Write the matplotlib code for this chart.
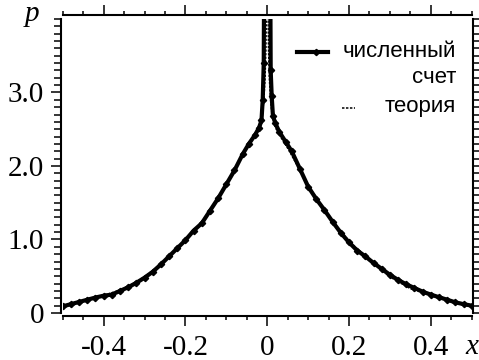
"""Distribution p(x): numerical result against theory."""

import matplotlib

matplotlib.use("Agg")
import matplotlib.pyplot as plt  # noqa: E402
from matplotlib.ticker import MultipleLocator  # noqa: E402

# numerical estimate of p(x)
x_num = [
    -0.50, -0.48, -0.46, -0.44, -0.42, -0.40, -0.38, -0.36, -0.34, -0.32,
    -0.30, -0.28, -0.26, -0.24, -0.22, -0.20, -0.18, -0.16, -0.14, -0.12,
    -0.10, -0.08, -0.06, -0.045, -0.03, -0.02, -0.014, -0.011, -0.0085, -0.0075,
    0.0075, 0.0085, 0.011, 0.014, 0.02, 0.03, 0.045, 0.06, 0.08, 0.10,
    0.12, 0.14, 0.16, 0.18, 0.20, 0.22, 0.24, 0.26, 0.28, 0.30,
    0.32, 0.34, 0.36, 0.38, 0.40, 0.42, 0.44, 0.46, 0.48, 0.50,
]
p_num = [
    0.09, 0.12, 0.15, 0.18, 0.21, 0.235, 0.25, 0.30, 0.35, 0.41,
    0.48, 0.56, 0.66, 0.77, 0.88, 0.99, 1.12, 1.22, 1.39, 1.56,
    1.75, 1.94, 2.16, 2.30, 2.42, 2.52, 2.62, 2.90, 3.40, 4.60,
    4.60, 3.30, 2.95, 2.68, 2.58, 2.46, 2.33, 2.20, 1.96, 1.72,
    1.55, 1.40, 1.24, 1.09, 0.96, 0.85, 0.77, 0.68, 0.60, 0.52,
    0.45, 0.39, 0.34, 0.29, 0.25, 0.215, 0.18, 0.145, 0.12, 0.10,
]

# theoretical curve
x_theory = [
    -0.50, -0.45, -0.40, -0.35, -0.30, -0.25, -0.20, -0.15, -0.10, -0.07,
    -0.05, -0.03, -0.02, -0.012, -0.008, -0.005, -0.003, 0.0,
    0.003, 0.005, 0.008, 0.012, 0.02, 0.03, 0.05, 0.07, 0.10, 0.15,
    0.20, 0.25, 0.30, 0.35, 0.40, 0.45, 0.50,
]
p_theory = [
    0.10, 0.16, 0.24, 0.33, 0.49, 0.71, 0.98, 1.31, 1.74, 2.04,
    2.24, 2.42, 2.52, 2.68, 2.90, 3.20, 3.60, 5.00,
    3.60, 3.20, 2.90, 2.68, 2.52, 2.42, 2.24, 2.04, 1.74, 1.31,
    0.98, 0.71, 0.49, 0.33, 0.24, 0.16, 0.10,
]

x_major = [-0.4, -0.2, 0.0, 0.2, 0.4]
x_labels = ["-0.4", "-0.2", "0", "0.2", "0.4"]
y_major = [0.0, 1.0, 2.0, 3.0]
y_labels = ["0", "1.0", "2.0", "3.0"]

label_num = "численный\nсчет"
label_theory = "теория"

SERIF = "Liberation Serif"
SANS = "Liberation Sans"
DASH = (0, (1.6, 1.0))

fig = plt.figure(figsize=(4.79, 3.6), dpi=100)
ax = fig.add_axes([0.1309, 0.1306, 0.8539, 0.8167])

ax.plot(x_num, p_num, color="black", lw=3.0, marker="D", ms=3.2,
        zorder=3)
ax.plot(x_theory, p_theory, color="black", lw=1.0, ls=DASH, zorder=4)

ax.set_xlim(-0.5, 0.5)
ax.set_ylim(0.0, 4.0)

# frame lines pulled slightly away from the data area
for side, offset in (("left", 1.4), ("bottom", 2.0), ("top", 2.9), ("right", 0.7)):
    ax.spines[side].set_position(("outward", offset))
    ax.spines[side].set_linewidth(1.5)

ax.set_xticks(x_major, x_labels, fontfamily=SERIF, fontsize=21)
ax.set_yticks(y_major, y_labels, fontfamily=SERIF, fontsize=21)
ax.xaxis.set_minor_locator(MultipleLocator(0.05))
ax.yaxis.set_minor_locator(MultipleLocator(0.1))
ax.tick_params(axis="x", which="both", direction="out", top=True,
               bottom=True, width=1.1, pad=6.5)
ax.tick_params(axis="x", which="major", length=7)
ax.tick_params(axis="x", which="minor", length=3)
ax.tick_params(axis="y", which="both", direction="out", left=True,
               right=True, width=1.1, pad=5.0)
ax.tick_params(axis="y", which="major", length=7)
ax.tick_params(axis="y", which="minor", length=5)

# legend drawn by hand: first entry spans two right-aligned lines
ax.plot([0.573, 0.649], [0.889, 0.889], transform=ax.transAxes,
        color="black", lw=3.0, clip_on=False)
ax.plot([0.62], [0.889], transform=ax.transAxes, color="black",
        marker="D", ms=3.2, clip_on=False)
ax.plot([0.682, 0.714], [0.697, 0.697], transform=ax.transAxes,
        color="black", lw=1.1, ls=DASH, clip_on=False)
first, second = label_num.split("\n")
ax.text(0.962, 0.872, first, transform=ax.transAxes, ha="right",
        va="baseline", fontfamily=SANS, fontsize=16)
ax.text(0.962, 0.781, second, transform=ax.transAxes, ha="right",
        va="baseline", fontfamily=SANS, fontsize=16)
ax.text(0.962, 0.685, label_theory, transform=ax.transAxes, ha="right",
        va="baseline", fontfamily=SANS, fontsize=16)

fig.text(0.0658, 0.9425, "p", ha="center", va="baseline",
         fontfamily=SERIF, fontstyle="italic", fontsize=21)
fig.text(0.984, 0.0167, "x", ha="center", va="baseline",
         fontfamily=SERIF, fontstyle="italic", fontsize=21)

fig.savefig("out.png", dpi=100)
